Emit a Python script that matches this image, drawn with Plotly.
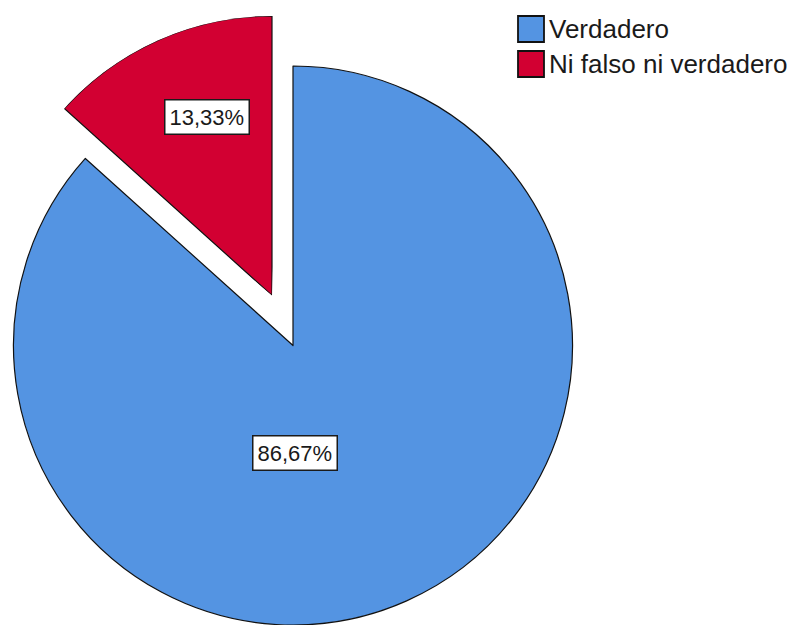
import math
import plotly.graph_objects as go

# Survey answer shares (percent)
categories = ["Verdadero", "Ni falso ni verdadero"]
percentages = [86.67, 13.33]
colors = ["#5494E2", "#D20032"]

W, H = 789, 625
FONT = "Liberation Sans, Arial, sans-serif"


def pct_label(v):
    return f"{v:.2f}".replace(".", ",") + "%"


def px_x(x):
    return x / W


def px_y(y):
    return 1 - y / H


fig = go.Figure()

# Main pie: the first slice starts at 12 o'clock and runs clockwise;
# the exploded slice is left empty here and drawn separately below.
R = 279.5
pie_cx, pie_cy = 293.0, H - R
fig.add_trace(go.Pie(
    labels=categories,
    values=percentages,
    sort=False,
    direction="clockwise",
    rotation=0,
    marker=dict(colors=[colors[0], "rgba(0,0,0,0)"],
                line=dict(color="#111111", width=[1.2, 0])),
    textinfo="none",
    hoverinfo="label+percent",
    showlegend=False,
    domain=dict(x=[px_x(pie_cx - R), px_x(pie_cx + R)], y=[0, 2 * R / H]),
))

# Exploded slice as a polar wedge whose apex sits up-left of the pie centre
total = sum(percentages)
span = 360.0 * percentages[1] / total
theta_mid = 90.0 + span / 2.0            # counter-clockwise from east
sector = [88.0, 90.0 + span + 2.0]
ex_cx, ex_cy = 272.0, 295.5

a0, a1 = math.radians(sector[0]), math.radians(sector[1])
bx0 = min(0.0, math.cos(a0), math.cos(a1))
bx1 = max(0.0, math.cos(a0), math.cos(a1))
dom_left = ex_cx + R * bx0
dom_right = ex_cx + R * bx1
dom_top = ex_cy - R
dom_bottom = ex_cy

fig.add_trace(go.Barpolar(
    r=[1.0],
    theta=[theta_mid],
    width=[span],
    marker=dict(color=colors[1], line=dict(color="#111111", width=1.2)),
    name=categories[1],
    showlegend=False,
    hoverinfo="name",
))

fig.update_layout(
    polar=dict(
        domain=dict(x=[px_x(dom_left), px_x(dom_right)],
                    y=[px_y(dom_bottom), px_y(dom_top)]),
        sector=sector,
        bgcolor="rgba(0,0,0,0)",
        radialaxis=dict(range=[0, 1], visible=False),
        angularaxis=dict(visible=False, direction="counterclockwise", rotation=0),
    ),
)

# Value labels in white boxes
label_pos = [(294.7, 453.0), (206.5, 116.5)]
annotations = []
for (lx, ly), v in zip(label_pos, percentages):
    annotations.append(dict(
        x=px_x(lx), y=px_y(ly), xref="paper", yref="paper",
        text=pct_label(v), showarrow=False,
        xanchor="center", yanchor="middle",
        font=dict(family=FONT, size=22, color="#1a1a1a"),
        bgcolor="white", bordercolor="#1a1a1a", borderwidth=1.5, borderpad=4,
    ))

# Legend: colour swatches with labels
shapes = []
sw_x0, sw_size = 518.0, 26.0
row_centers = [29.0, 64.0]
for cat, col, yc in zip(categories, colors, row_centers):
    shapes.append(dict(
        type="rect", xref="paper", yref="paper",
        x0=px_x(sw_x0), x1=px_x(sw_x0 + sw_size),
        y0=px_y(yc + sw_size / 2), y1=px_y(yc - sw_size / 2),
        fillcolor=col, line=dict(color="#111111", width=1.8),
    ))
    annotations.append(dict(
        x=px_x(sw_x0 + sw_size + 3), y=px_y(yc), xref="paper", yref="paper",
        text=cat, showarrow=False, xanchor="left", yanchor="middle",
        font=dict(family=FONT, size=26, color="#1a1a1a"),
    ))

fig.update_layout(
    width=W, height=H,
    margin=dict(l=0, r=0, t=0, b=0),
    paper_bgcolor="white",
    plot_bgcolor="white",
    showlegend=False,
    annotations=annotations,
    shapes=shapes,
)

fig.write_html("out.html")
